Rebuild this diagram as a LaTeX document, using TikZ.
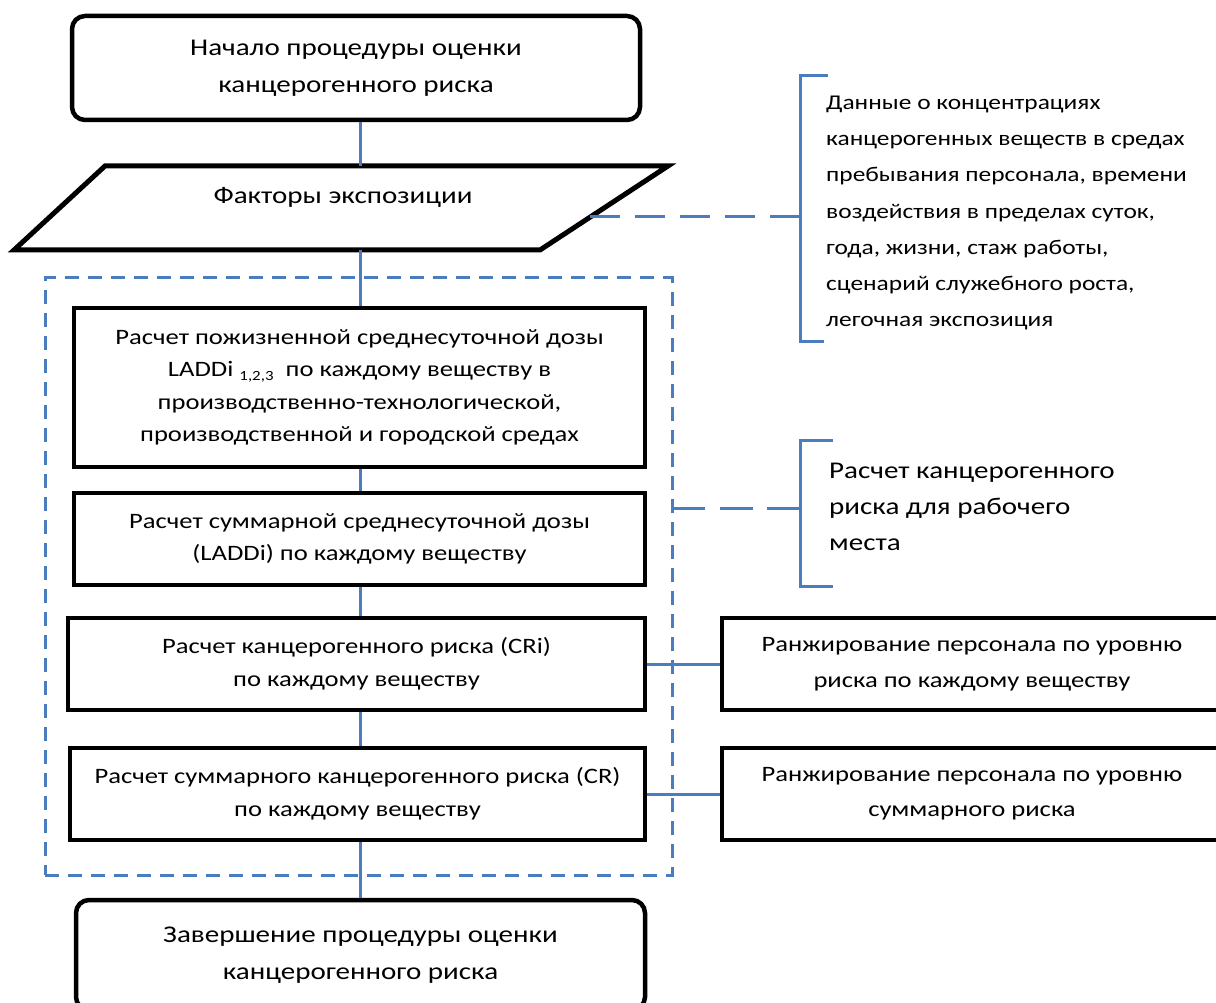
\documentclass[tikz,border=0pt]{standalone}
\usepackage{fontspec}
\setmainfont{Carlito}[FakeStretch=1.21]
\definecolor{lnblue}{RGB}{74,124,192}
\begin{document}
\begin{tikzpicture}[x=1pt,y=-1pt,
  blk/.style={draw=black, line width=4.5pt, align=center, inner sep=0pt, fill=white},
  rblk/.style={blk, rounded corners=13pt},
  conn/.style={draw=lnblue, line width=3pt},
  dconn/.style={draw=lnblue, line width=3pt},
  grpline/.style={draw=lnblue, line width=3pt, dash pattern=on 14pt off 9pt},
  brk/.style={draw=lnblue, line width=3pt},
  bigf/.style={font=\fontsize{24}{37}\selectfont},
  midf/.style={font=\fontsize{22}{32.5}\selectfont},
  notef/.style={font=\fontsize{21}{36.2}\selectfont},
]
\useasboundingbox (0,0) rectangle (1216,1003);
\clip (0,0) rectangle (1216,1003);
\fill[white] (0,0) rectangle (1216,1003);

% group frame
\node[grpline, minimum width=627pt, minimum height=597pt, inner sep=0pt] (grp) at (358.5,576.5) {};

% start
\node[rblk, bigf, minimum width=568pt, minimum height=104pt] (start) at (356,68)
  {Начало процедуры оценки\\канцерогенного риска};

% parallelogram
\coordinate (pa) at (105,166);
\coordinate (pb) at (668,166);
\coordinate (pc) at (540,250);
\coordinate (pd) at (14,250);
\draw[line width=5pt, line join=miter] (pa) -- (pb) -- (pc) -- (pd) -- cycle;
\node[bigf] (fact) at (343,197) {Факторы экспозиции};
\coordinate (ptop) at (360,166);
\coordinate (pbot) at (360,250);
\coordinate (pright) at (590,217);

% main boxes
\node[blk, midf, minimum width=571pt, minimum height=159pt] (b1) at (359.5,387.5)
  {Расчет пожизненной среднесуточной дозы\\
   LADDi \raisebox{-0.35ex}{\fontsize{14}{14}\selectfont 1,2,3}\ \ по каждому веществу в\\
   производственно-технологической,\\
   производственной и городской средах};
\node[blk, midf, minimum width=571pt, minimum height=92pt] (b2) at (359.5,539)
  {Расчет суммарной среднесуточной дозы\\(LADDi) по каждому веществу};
\node[blk, midf, minimum width=577pt, minimum height=92pt] (b3) at (356.5,664)
  {Расчет канцерогенного риска (CRi)\\по каждому веществу};
\node[blk, midf, minimum width=575pt, minimum height=92pt] (b4) at (357.5,794)
  {Расчет суммарного канцерогенного риска (CR)\\по каждому веществу};
\node[rblk, bigf, minimum width=569pt, minimum height=110pt] (fin) at (360.5,955)
  {Завершение процедуры оценки\\канцерогенного риска};

% right boxes
\node[blk, midf, minimum width=500pt, minimum height=92pt, font=\fontsize{22}{36}\selectfont] (r1) at (972,664)
  {Ранжирование персонала по уровню\\риска по каждому веществу};
\node[blk, midf, minimum width=500pt, minimum height=92pt, font=\fontsize{22}{35}\selectfont] (r2) at (972,794)
  {Ранжирование персонала по уровню\\суммарного риска};

% vertical connectors (column x = 360)
\draw[conn] (start.south -| ptop) -- (ptop);
\draw[conn] (pbot) -- (b1.north -| pbot);
\draw[conn] (b1.south -| pbot) -- (b2.north -| pbot);
\draw[conn] (b2.south -| pbot) -- (b3.north -| pbot);
\draw[conn] (b3.south -| pbot) -- (b4.north -| pbot);
\draw[conn] (b4.south -| pbot) -- (fin.north -| pbot);
\draw[conn] (b3.east) -- (r1.west);
\draw[conn] (b4.east) -- (r2.west);

% bracket 1 (data)
\coordinate (k1a) at (828,76);
\coordinate (k1b) at (800,76);
\coordinate (k1c) at (800,341);
\coordinate (k1d) at (824,341);
\coordinate (k1m) at (800,217);
\draw[brk] (k1a) -- (k1b) -- (k1c) -- (k1d);
\draw[dconn, dash pattern=on 30pt off 15pt] (pright) -- (k1m);
\node[notef, anchor=west, align=left, inner sep=0pt] (data) at (826,213)
  {Данные о концентрациях\\
   канцерогенных веществ в средах\\
   пребывания персонала, времени\\
   воздействия в пределах суток,\\
   года, жизни, стаж работы,\\
   сценарий служебного роста,\\
   легочная экспозиция};

% bracket 2 (workplace)
\coordinate (k2a) at (833,440);
\coordinate (k2b) at (800,440);
\coordinate (k2c) at (800,586);
\coordinate (k2d) at (833,586);
\coordinate (k2m) at (800,508);
\coordinate (gright) at (672,508);
\draw[brk] (k2a) -- (k2b) -- (k2c) -- (k2d);
\draw[dconn, dash pattern=on 33pt off 14.5pt] (gright) -- (k2m);
\node[bigf, anchor=west, align=left, inner sep=0pt, font=\fontsize{24}{36}\selectfont] (work) at (829,507)
  {Расчет канцерогенного\\риска для рабочего\\места};
\end{tikzpicture}
\end{document}
